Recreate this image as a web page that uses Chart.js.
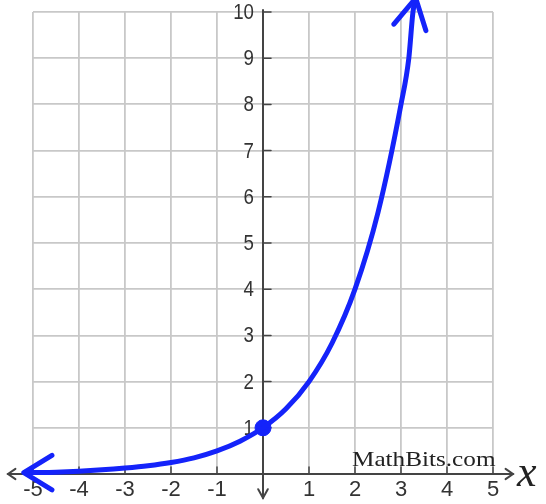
<!DOCTYPE html>
<html>
<head>
<meta charset="utf-8">
<script src="https://cdn.jsdelivr.net/npm/chart.js@4.4.1/dist/chart.umd.min.js"></script>
<style>
  html, body { margin: 0; padding: 0; background: #fff; }
  #wrap { width: 546px; height: 504px; position: relative; }
</style>
</head>
<body>
<div id="wrap"><canvas id="graph"></canvas></div>
<script>
// points
const curveX = [-5.2, -5, -4.5, -4, -3.5, -3, -2.5, -2, -1.5, -1, -0.5, 0, 0.5, 1, 1.5, 2, 2.5, 3, 3.17, 3.26, 3.32];
const curveY = [0.03, 0.03, 0.04, 0.06, 0.09, 0.13, 0.18, 0.25, 0.35, 0.5, 0.71, 1, 1.41, 2, 2.83, 4, 5.66, 8, 9, 10, 10.3];
// the marked point (y-intercept)
const dotX = [0];
const dotY = [1];
// axis ranges
const xRange = [-5, 5];
const yRange = [0, 10];

const BLUE = 'rgb(20, 35, 250)';
const AXIS = '#444';
const LABEL = '#333';

const curve = curveX.map((x, i) => ({ x: x, y: curveY[i] }));
const dot = dotX.map((x, i) => ({ x: x, y: dotY[i] }));

// V shaped arrow head, tip at (tx, ty), pointing away from (fx, fy)
function arrowHead(ctx, fx, fy, tx, ty, len, ang) {
  const a = Math.atan2(ty - fy, tx - fx);
  ctx.beginPath();
  ctx.moveTo(tx - len * Math.cos(a - ang), ty - len * Math.sin(a - ang));
  ctx.lineTo(tx, ty);
  ctx.lineTo(tx - len * Math.cos(a + ang), ty - len * Math.sin(a + ang));
  ctx.stroke();
}

const axesPlugin = {
  id: 'axesPlugin',
  beforeDatasetsDraw(chart) {
    const ctx = chart.ctx;
    const xs = chart.scales.x, ys = chart.scales.y;
    const x0 = xs.getPixelForValue(0), y0 = ys.getPixelForValue(0);
    ctx.save();
    ctx.strokeStyle = AXIS;
    ctx.lineWidth = 2;
    ctx.lineCap = 'round';
    // x axis
    ctx.beginPath();
    ctx.moveTo(8, y0);
    ctx.lineTo(513, y0);
    ctx.stroke();
    arrowHead(ctx, 20, y0, 8, y0, 9, 0.6);
    arrowHead(ctx, 500, y0, 513, y0, 9, 0.6);
    // y axis
    ctx.beginPath();
    ctx.moveTo(x0, ys.getPixelForValue(yRange[1]) - 2);
    ctx.lineTo(x0, 498);
    ctx.stroke();
    arrowHead(ctx, x0, 485, x0, 498, 10, 0.5);
    // small tick marks
    ctx.lineWidth = 1.5;
    xs.ticks.forEach(t => {
      if (t.value === 0) return;
      const px = xs.getPixelForValue(t.value);
      ctx.beginPath();
      ctx.moveTo(px, y0);
      ctx.lineTo(px, y0 - 7);
      ctx.stroke();
    });
    // y tick marks and labels, right of / left of the middle axis
    ctx.fillStyle = LABEL;
    ctx.font = '22px "Liberation Sans"';
    ctx.textAlign = 'right';
    ctx.textBaseline = 'middle';
    ys.ticks.forEach(t => {
      if (t.value === 0) return;
      const py = ys.getPixelForValue(t.value);
      ctx.beginPath();
      ctx.moveTo(x0, py);
      ctx.lineTo(x0 + 8, py);
      ctx.stroke();
      ctx.save();
      ctx.translate(x0 - 9, py + 1);
      ctx.scale(0.85, 1);
      ctx.fillText(String(t.value), 0, 0);
      ctx.restore();
    });
    ctx.restore();
  },
  afterDatasetsDraw(chart) {
    const ctx = chart.ctx;
    const pts = chart.getDatasetMeta(0).data;
    ctx.save();
    ctx.strokeStyle = BLUE;
    ctx.lineWidth = 5;
    ctx.lineCap = 'round';
    ctx.lineJoin = 'round';
    const n = pts.length;
    arrowHead(ctx, pts[1].x, pts[1].y, pts[0].x, pts[0].y, 33, 0.55);
    arrowHead(ctx, pts[n - 2].x, pts[n - 2].y, pts[n - 1].x, pts[n - 1].y, 34, 0.5);
    // texts
    ctx.fillStyle = '#222';
    ctx.textBaseline = 'alphabetic';
    ctx.save();
    ctx.translate(352, 466);
    ctx.scale(1.2, 1);
    ctx.font = '21px "Liberation Serif"';
    ctx.fillText('MathBits.com', 0, 0);
    ctx.restore();
    ctx.font = 'italic 44px "Liberation Serif"';
    ctx.fillText('x', 517, 486);
    ctx.restore();
  }
};

new Chart(document.getElementById('graph'), {
  type: 'scatter',
  data: {
    datasets: [
      {
        data: curve,
        showLine: true,
        borderColor: BLUE,
        borderWidth: 5,
        pointRadius: 0,
        cubicInterpolationMode: 'monotone',
        clip: false
      },
      {
        data: dot,
        backgroundColor: BLUE,
        borderColor: BLUE,
        pointRadius: 8,
        clip: false
      }
    ]
  },
  options: {
    responsive: true,
    maintainAspectRatio: false,
    animation: false,
    layout: { padding: { left: 33, right: 53, top: 12, bottom: 30 } },
    plugins: { legend: { display: false }, tooltip: { enabled: false } },
    scales: {
      x: {
        type: 'linear',
        position: { y: 0 },
        min: xRange[0],
        max: xRange[1],
        border: { display: false },
        grid: { color: '#c8c8c8', lineWidth: 1.8, drawTicks: false },
        ticks: {
          stepSize: 1,
          padding: 3,
          color: LABEL,
          font: { family: 'Liberation Sans', size: 22 },
          callback: v => (v === 0 ? '' : v)
        }
      },
      y: {
        type: 'linear',
        position: { x: 0 },
        min: yRange[0],
        max: yRange[1],
        border: { display: false },
        grid: { color: '#c8c8c8', lineWidth: 1.8, drawTicks: false },
        // labels are drawn by axesPlugin so they can sit off the axis
        ticks: { stepSize: 1, display: false }
      }
    }
  },
  plugins: [axesPlugin]
});
</script>
</body>
</html>
